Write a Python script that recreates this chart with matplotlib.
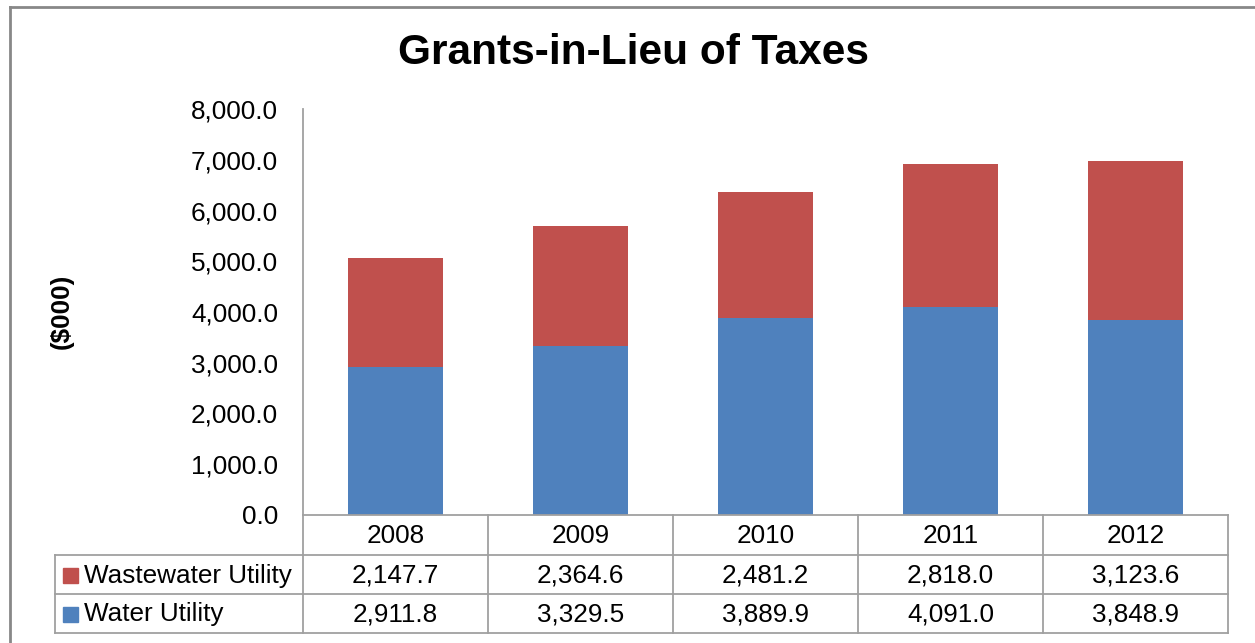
import matplotlib
matplotlib.use("Agg")
import matplotlib.pyplot as plt
from matplotlib.patches import Rectangle
from matplotlib.lines import Line2D
import numpy as np

years = ["2008", "2009", "2010", "2011", "2012"]
wastewater = [2147.7, 2364.6, 2481.2, 2818.0, 3123.6]
water = [2911.8, 3329.5, 3889.9, 4091.0, 3848.9]
series_names = ["Wastewater Utility", "Water Utility"]
yticks = [0, 1000, 2000, 3000, 4000, 5000, 6000, 7000, 8000]

BLUE = "#4F81BD"
RED = "#C0504D"
GRID = "#A0A0A0"
FS = 18.8

plt.rcParams['font.family'] = ['Liberation Sans', 'DejaVu Sans']

W, H = 1255, 643
fig = plt.figure(figsize=(W / 100, H / 100), dpi=100)

def fx(px):
    return px / W

def fy(py):
    return 1 - py / H

ax_l, ax_r, ax_t, ax_b = 303, 1228, 109, 515
ax = fig.add_axes([fx(ax_l), fy(ax_b), fx(ax_r) - fx(ax_l), fy(ax_t) - fy(ax_b)])

x = np.arange(len(years))
ax.bar(x, water, width=0.515, color=BLUE, zorder=2)
ax.bar(x, wastewater, bottom=water, width=0.515, color=RED, zorder=2)
ax.set_xlim(-0.5, len(years) - 0.5)
ax.set_ylim(0, 8000)
ax.set_yticks(yticks)
ax.set_yticklabels([f"{v:,.1f}" for v in yticks], fontsize=FS)
ax.tick_params(axis='y', length=0, pad=18)
ax.set_xticks([])
for s in ["top", "right", "bottom"]:
    ax.spines[s].set_visible(False)
ax.spines["left"].set_color(GRID)
ax.spines["left"].set_linewidth(1.3)

# Title and axis label
fig.text(fx(634), fy(53), "Grants-in-Lieu of Taxes", ha="center", va="center",
         fontsize=30.5, fontweight="bold")
fig.text(fx(62), fy(311), "($000)", ha="center", va="center", rotation=90,
         fontsize=FS, fontweight="bold")

# Data table
row_y = [515, 555, 594, 633]
tab_left = 55
col_w = (ax_r - ax_l) / len(years)
col_x = [ax_l + i * col_w for i in range(len(years) + 1)]
lw = 1.3

def hline(y, x0, x1):
    fig.add_artist(Line2D([fx(x0), fx(x1)], [fy(y), fy(y)], color=GRID, lw=lw))

def vline(xp, y0, y1):
    fig.add_artist(Line2D([fx(xp), fx(xp)], [fy(y0), fy(y1)], color=GRID, lw=lw))

hline(row_y[0], ax_l, ax_r)
for yy in row_y[1:]:
    hline(yy, tab_left, ax_r)
vline(tab_left, row_y[1], row_y[3])
for xp in col_x:
    vline(xp, row_y[0], row_y[3])

for i, yr in enumerate(years):
    cx = (col_x[i] + col_x[i + 1]) / 2
    fig.text(fx(cx), fy((row_y[0] + row_y[1]) / 2 + 1), yr, ha="center", va="center", fontsize=FS)
    fig.text(fx(cx), fy((row_y[1] + row_y[2]) / 2 + 1), f"{wastewater[i]:,.1f}", ha="center", va="center", fontsize=FS)
    fig.text(fx(cx), fy((row_y[2] + row_y[3]) / 2 + 1), f"{water[i]:,.1f}", ha="center", va="center", fontsize=FS)

for r, (name, col) in enumerate(zip(series_names, [RED, BLUE])):
    cy = (row_y[r + 1] + row_y[r + 2]) / 2
    fig.add_artist(Rectangle((fx(63), fy(cy + 8)), fx(15), fy(cy - 7) - fy(cy + 8),
                             color=col, transform=fig.transFigure))
    fig.text(fx(84), fy(cy + 1), name, ha="left", va="center", fontsize=FS)

# Outer chart border
fig.add_artist(Line2D([fx(10), fx(10)], [fy(7), fy(H + 5)], color="#888888", lw=2))
fig.add_artist(Line2D([fx(10), fx(W + 5)], [fy(7), fy(7)], color="#888888", lw=2))

fig.savefig("out.png", dpi=100, facecolor="white")
